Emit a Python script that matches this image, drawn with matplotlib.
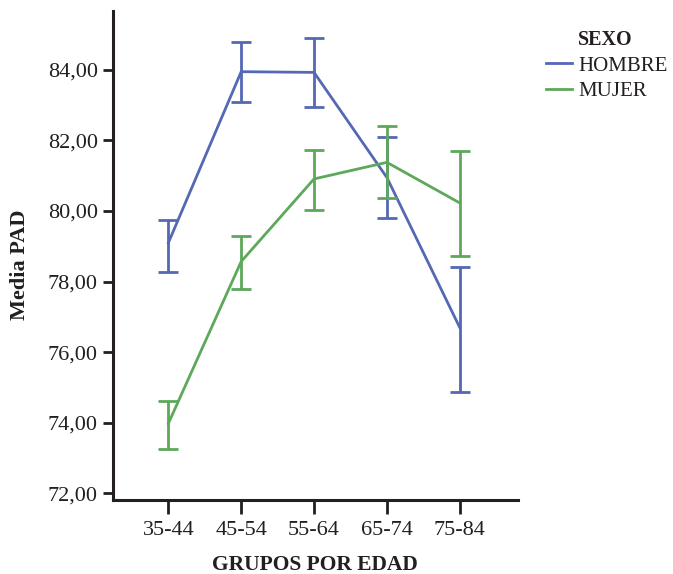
import matplotlib
matplotlib.use("Agg")
import matplotlib.pyplot as plt
from matplotlib.lines import Line2D
import numpy as np

categories = ["35-44", "45-54", "55-64", "65-74", "75-84"]
hombre_mean = [79.10, 83.95, 83.93, 80.95, 76.70]
hombre_low = [78.27, 83.10, 82.96, 79.80, 74.87]
hombre_high = [79.75, 84.80, 84.90, 82.09, 78.40]
mujer_mean = [73.98, 78.57, 80.91, 81.38, 80.23]
mujer_low = [73.26, 77.80, 80.03, 80.38, 78.72]
mujer_high = [74.61, 79.30, 81.74, 82.42, 81.69]
yticks = [72, 74, 76, 78, 80, 82, 84]
ytick_labels = ["72,00", "74,00", "76,00", "78,00", "80,00", "82,00", "84,00"]

BLUE = "#5468B4"
GREEN = "#5DA85A"
DARK = "#231F20"
FONT = "Liberation Serif"

plt.rcParams['font.family'] = FONT

W, H = 673, 574
fig = plt.figure(figsize=(W/100, H/100), dpi=100)
ax = fig.add_axes([113/W, 1-500/H, (518-113)/W, (500-11)/H])

x = np.arange(len(categories))
for mean, lo, hi, col in [(hombre_mean, hombre_low, hombre_high, BLUE),
                          (mujer_mean, mujer_low, mujer_high, GREEN)]:
    mean = np.array(mean); lo = np.array(lo); hi = np.array(hi)
    ax.plot(x, mean, color=col, lw=2)
    ax.errorbar(x, mean, yerr=[mean - lo, hi - mean], fmt='none', ecolor=col,
                elinewidth=2, capsize=7, capthick=2)

ax.set_xlim(-0.76, 4.80)
ax.set_ylim(71.81, 85.67)
ax.set_xticks(x)
ax.set_xticklabels(categories)
ax.set_yticks(yticks)
ax.set_yticklabels(ytick_labels)
for s in ["top", "right"]:
    ax.spines[s].set_visible(False)
for s in ["left", "bottom"]:
    ax.spines[s].set_linewidth(2.2)
    ax.spines[s].set_color(DARK)
ax.tick_params(axis='y', length=7, width=2, color=DARK, labelsize=16, labelcolor=DARK, pad=4)
ax.tick_params(axis='x', length=10, width=2, color=DARK, labelsize=16, labelcolor=DARK, pad=5)

fig.text(20/W, 1-265/H, "Media PAD", fontsize=16, fontweight='bold', color=DARK,
         rotation=90, ha='center', va='center')
fig.text(315/W, 1-565/H, "GRUPOS POR EDAD", fontsize=15.5, fontweight='bold', color=DARK,
         ha='center', va='center')

fig.text(578/W, 1-40/H, "SEXO", fontsize=14.5, fontweight='bold', color=DARK,
         ha='left', va='center')
handles = [Line2D([], [], color=BLUE, lw=2), Line2D([], [], color=GREEN, lw=2)]
fig.legend(handles, ["HOMBRE", "MUJER"], loc='upper left',
           bbox_to_anchor=(546/W, 1-56/H), frameon=False, fontsize=15,
           handlelength=1.25, handletextpad=0.3, labelspacing=0.3, borderpad=0,
           borderaxespad=0, labelcolor=DARK)

fig.savefig("out.png", dpi=100)
